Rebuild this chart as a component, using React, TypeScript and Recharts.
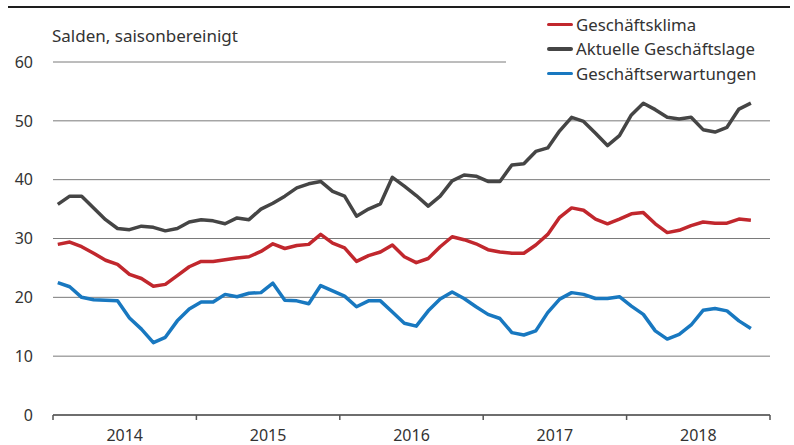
import React from "react";
import { LineChart, Line, XAxis, YAxis, CartesianGrid, Legend } from "recharts";

const years = ["2014", "2015", "2016", "2017", "2018"];
const yTicks = [0, 10, 20, 30, 40, 50, 60];

// Monthly values Jan 2014 – Nov 2018
const geschaeftsklima = [
  29.0, 29.4, 28.6, 27.5, 26.3, 25.6, 23.9, 23.2, 21.9, 22.2,
  23.7, 25.2, 26.1, 26.1, 26.4, 26.7, 26.9, 27.8, 29.1, 28.3,
  28.8, 29.0, 30.7, 29.2, 28.4, 26.1, 27.1, 27.7, 28.9, 26.9,
  25.9, 26.6, 28.6, 30.3, 29.8, 29.1, 28.1, 27.7, 27.5, 27.5,
  28.9, 30.7, 33.6, 35.2, 34.8, 33.3, 32.5, 33.3, 34.2, 34.4,
  32.5, 31.0, 31.4, 32.2, 32.8, 32.6, 32.6, 33.3, 33.1,
];
const aktuelleLage = [
  35.8, 37.2, 37.2, 35.2, 33.2, 31.7, 31.5, 32.1, 31.9, 31.3,
  31.7, 32.8, 33.2, 33.0, 32.5, 33.5, 33.2, 35.0, 36.0, 37.2,
  38.6, 39.3, 39.7, 38.0, 37.2, 33.8, 35.0, 35.9, 40.4, 38.9,
  37.3, 35.5, 37.2, 39.8, 40.8, 40.6, 39.7, 39.7, 42.5, 42.7,
  44.8, 45.4, 48.3, 50.6, 49.9, 47.9, 45.8, 47.5, 51.0, 53.0,
  51.9, 50.6, 50.3, 50.6, 48.5, 48.1, 48.9, 52.0, 53.0,
];
const erwartungen = [
  22.5, 21.8, 20.0, 19.6, 19.5, 19.4, 16.5, 14.6, 12.3, 13.2,
  16.0, 18.0, 19.2, 19.2, 20.5, 20.1, 20.7, 20.8, 22.4, 19.5,
  19.4, 18.9, 22.0, 21.1, 20.2, 18.4, 19.4, 19.4, 17.5, 15.6,
  15.1, 17.7, 19.7, 20.9, 19.8, 18.4, 17.1, 16.4, 14.0, 13.6,
  14.3, 17.4, 19.7, 20.8, 20.5, 19.8, 19.8, 20.1, 18.5, 17.1,
  14.3, 12.9, 13.7, 15.3, 17.8, 18.1, 17.7, 16.0, 14.7,
];

const series = [
  { key: "klima", name: "Geschäftsklima", color: "#c1272d" },
  { key: "lage", name: "Aktuelle Geschäftslage", color: "#454545" },
  { key: "erw", name: "Geschäftserwartungen", color: "#1878c0" },
];

const data = geschaeftsklima.map((v, i) => ({
  m: i + 0.4,
  klima: v,
  lage: aktuelleLage[i],
  erw: erwartungen[i],
}));

const FONT = "'Noto Sans', 'Open Sans', sans-serif";

const xTicks = Array.from({ length: years.length * 2 + 1 }, (_, i) => i * 6);

const XTick = (props: any) => {
  const { x, y, payload } = props;
  const v = payload.value;
  if (v % 12 === 0) {
    return <line x1={x} x2={x} y1={y} y2={y + 5} stroke="#555" strokeWidth={1.5} />;
  }
  const label = years[Math.floor(v / 12)];
  return (
    <text x={x} y={y + 26} textAnchor="middle" fontSize={16} fill="#333" fontFamily={FONT}>
      {label}
    </text>
  );
};

const LegendContent = () => (
  <div style={{ background: "#fff", paddingLeft: 41, paddingTop: 2, paddingBottom: 4, fontFamily: FONT }}>
    {series.map((s) => (
      <div key={s.key} style={{ display: "flex", alignItems: "center", height: 24.5 }}>
        <div style={{ width: 26, height: 3.5, background: s.color, marginRight: 3, borderRadius: 2 }} />
        <span style={{ fontSize: 16.8, color: "#333", whiteSpace: "nowrap" }}>{s.name}</span>
      </div>
    ))}
  </div>
);

export default function App() {
  return (
    <div style={{ position: "absolute", left: 0, top: 0, width: 794, height: 445, background: "#fff", overflow: "hidden" }}>
      <div style={{ position: "absolute", left: 8, top: 6, width: 782, height: 2, background: "#1e1e1e" }} />
      <div
        style={{
          position: "absolute",
          left: 52,
          top: 26,
          fontSize: 17,
          lineHeight: "19px",
          color: "#333",
          fontFamily: FONT,
          whiteSpace: "nowrap",
        }}
      >
        Salden, saisonbereinigt
      </div>
      <LineChart width={794} height={445} data={data} margin={{ top: 62, right: 24, bottom: 0, left: 0 }}>
        <CartesianGrid vertical={false} stroke="#7a7a7a" strokeWidth={1} />
        <XAxis
          type="number"
          dataKey="m"
          domain={[0, 60]}
          ticks={xTicks}
          interval={0}
          height={30}
          tickSize={0}
          tickMargin={0}
          tick={<XTick />}
          axisLine={{ stroke: "#555", strokeWidth: 1.5 }}
          tickLine={false}
        />
        <YAxis
          domain={[0, 60]}
          ticks={yTicks}
          interval={0}
          width={53}
          tickSize={0}
          tickMargin={20}
          axisLine={false}
          tickLine={false}
          tick={{ fontSize: 16, fill: "#333", fontFamily: FONT }}
        />
        <Legend
          layout="horizontal"
          verticalAlign="middle"
          align="center"
          content={<LegendContent />}
          wrapperStyle={{ position: "absolute", left: 506, top: 10, width: 280, height: "auto" }}
        />
        {series.map((s) => (
          <Line
            key={s.key}
            type="linear"
            dataKey={s.key}
            name={s.name}
            stroke={s.color}
            strokeWidth={3.5}
            dot={false}
            activeDot={false}
            strokeLinejoin="round"
            isAnimationActive={false}
          />
        ))}
      </LineChart>
    </div>
  );
}
